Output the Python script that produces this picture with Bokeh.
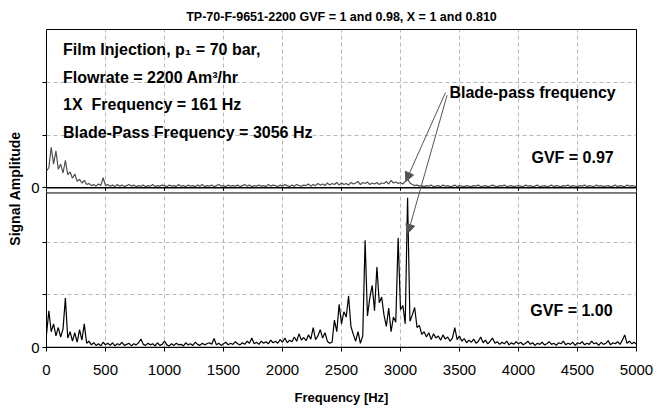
from bokeh.plotting import figure
from bokeh.models import Range1d, FixedTicker, CustomJSTickFormatter, Label, Arrow, NormalHead, Span
from bokeh.embed import file_html
from bokeh.resources import INLINE

# ---------------- data ----------------
freq_hz = list(range(0, 5001, 20))   # FFT bins, 20 Hz spacing

# GVF = 1.00 (bottom trace), amplitude units: 100 = one grid division
amp_gvf_100 = [
    25, 70, 30, 45, 22, 38, 20, 35, 94, 18,
    30, 12, 28, 10, 34, 14, 45, 8, 12, 5,
    9, 4, 7, 3, 10, 5, 8, 4, 9, 3,
    7, 5, 10, 4, 6, 8, 3, 7, 5, 9,
    16, 6, 4, 8, 5, 7, 3, 9, 4, 6,
    12, 5, 3, 7, 4, 8, 5, 6, 3, 9,
    5, 7, 4, 10, 6, 4, 8, 5, 7, 9,
    6, 17, 5, 8, 4, 7, 10, 5, 8, 6,
    11, 7, 5, 9, 6, 12, 8, 18, 7, 10,
    6, 12, 8, 11, 7, 14, 9, 12, 8, 15,
    10, 18, 9, 14, 11, 20, 12, 26, 14, 19,
    13, 24, 16, 38, 15, 22, 34, 18, 28, 12,
    8, 10, 52, 30, 82, 45, 68, 58, 98, 40,
    25, 12, 30, 8, 22, 204, 60, 95, 118, 70,
    153, 85, 96, 62, 40, 75, 30, 58, 48, 209,
    72, 80, 45, 285, 50, 62, 76, 38, 42, 25,
    30, 20, 28, 15, 26, 18, 22, 14, 24, 16,
    20, 12, 18, 38, 15, 22, 12, 17, 9, 14,
    10, 16, 8, 12, 20, 9, 14, 7, 12, 18,
    8, 11, 6, 10, 7, 12, 5, 9, 6, 11,
    7, 10, 5, 8, 12, 6, 9, 4, 8, 6,
    10, 5, 7, 11, 6, 8, 4, 9, 7, 12,
    5, 8, 6, 10, 4, 9, 7, 11, 5, 8,
    6, 12, 7, 9, 4, 10, 6, 8, 13, 5,
    9, 7, 11, 6, 14, 24, 8, 12, 7, 10,
    6,
]

# GVF = 0.97 (top trace)
amp_gvf_097 = [
    32, 38, 77, 45, 70, 35, 45, 28, 52, 25,
    30, 18, 26, 12, 16, 9, 14, 6, 8, 4,
    6, 3, 7, 4, 19, 4, 6, 3, 5, 2,
    6, 3, 5, 2, 4, 6, 3, 5, 2, 4,
    3, 5, 2, 4, 3, 6, 2, 4, 3, 5,
    4, 2, 5, 3, 4, 2, 6, 3, 4, 2,
    5, 3, 4, 2, 5, 3, 6, 2, 4, 3,
    5, 2, 4, 6, 3, 4, 2, 5, 3, 4,
    3, 5, 2, 4, 6, 3, 5, 2, 4, 3,
    5, 3, 4, 2, 6, 3, 5, 4, 2, 5,
    3, 6, 4, 2, 5, 3, 6, 4, 3, 5,
    4, 7, 3, 6, 4, 8, 5, 7, 4, 9,
    5, 8, 6, 10, 5, 9, 6, 8, 5, 10,
    7, 9, 12, 6, 10, 8, 11, 6, 9, 7,
    10, 6, 9, 8, 12, 7, 14, 9, 11, 8,
    10, 7, 12, 17, 9, 6, 4, 5, 3, 4,
    2, 4, 3, 5, 2, 3, 4, 2, 5, 3,
    4, 2, 3, 5, 2, 4, 3, 2, 4, 3,
    2, 4, 3, 5, 2, 3, 4, 2, 3, 5,
    3, 2, 4, 3, 5, 2, 3, 4, 2, 3,
    4, 3, 2, 5, 3, 4, 2, 3, 5, 2,
    3, 4, 2, 3, 5, 2, 4, 3, 2, 4,
    3, 5, 2, 4, 3, 2, 4, 3, 5, 2,
    4, 3, 2, 5, 3, 4, 2, 3, 4, 2,
    3, 5, 2, 4, 3, 2, 5, 3, 4, 3,
    2,
]

x_ticks = [0, 500, 1000, 1500, 2000, 2500, 3000, 3500, 4000, 4500, 5000]
title_text = "TP-70-F-9651-2200 GVF = 1 and 0.98, X = 1 and 0.810"
info_lines = [
    "Film Injection, p\u2081 = 70 bar,",
    "Flowrate = 2200 Am\u00b3/hr",
    "1X\u00a0 Frequency = 161 Hz",
    "Blade-Pass Frequency = 3056 Hz",
]

# ---------------- layout constants ----------------
UNIT = 100.0          # amplitude per grid division
TOP_OFF = 3.04        # baseline of the upper panel (grid units)
BOT_TOP = 2.94        # top border of the lower panel
FONT = "Liberation Sans"
ANN_SIZE = "16px"

y_bot = [a / UNIT for a in amp_gvf_100]
y_top = [TOP_OFF + a / UNIT for a in amp_gvf_097]

p = figure(width=669, height=420, output_backend="svg", toolbar_location=None,
           x_range=Range1d(0, 5000), y_range=Range1d(0, 6.05),
           min_border_left=46, min_border_right=33, min_border_top=29, min_border_bottom=73)

p.title.text = title_text
p.title.align = "center"
p.title.text_font = FONT
p.title.text_font_size = "12.5px"
p.title.text_font_style = "bold"
p.title.text_color = "black"
p.title.standoff = 11

p.outline_line_color = "black"
p.outline_line_width = 1

# axes
p.xaxis.ticker = FixedTicker(ticks=x_ticks)
p.xaxis.axis_label = "Frequency [Hz]"
p.xaxis.axis_label_text_font = FONT
p.xaxis.axis_label_text_font_size = "13px"
p.xaxis.axis_label_text_font_style = "bold"
p.xaxis.axis_label_text_color = "black"
p.xaxis.axis_label_standoff = 12
p.xaxis.major_label_text_font = FONT
p.xaxis.major_label_text_font_size = "15px"
p.xaxis.major_label_text_color = "black"
p.xaxis.major_label_standoff = 13
p.xaxis.major_tick_out = 4
p.xaxis.major_tick_in = 0
p.xaxis.minor_tick_line_color = None
p.xaxis.axis_line_color = None
p.xaxis.major_tick_line_color = "black"

p.yaxis.ticker = FixedTicker(ticks=[0, 1, 2, TOP_OFF, TOP_OFF + 1, TOP_OFF + 2])
p.yaxis.formatter = CustomJSTickFormatter(
    code="return (Math.abs(tick) < 1e-6 || Math.abs(tick - %s) < 1e-6) ? '0' : '';" % TOP_OFF)
p.yaxis.axis_label = "Signal Amplitude"
p.yaxis.axis_label_text_font = FONT
p.yaxis.axis_label_text_font_size = "14px"
p.yaxis.axis_label_text_font_style = "bold"
p.yaxis.axis_label_text_color = "black"
p.yaxis.axis_label_standoff = 5
p.yaxis.major_label_text_font = FONT
p.yaxis.major_label_text_font_size = "15px"
p.yaxis.major_label_text_color = "black"
p.yaxis.major_label_standoff = 3
p.yaxis.major_tick_out = 4
p.yaxis.major_tick_in = 0
p.yaxis.minor_tick_line_color = None
p.yaxis.axis_line_color = None

for g in (p.xgrid, p.ygrid):
    g.grid_line_color = "#b8b8b8"
    g.grid_line_dash = "4 3"
    g.grid_line_width = 1

# gap between the two panels
p.quad(left=0, right=5000, bottom=BOT_TOP, top=TOP_OFF, fill_color="white", line_color=None)
p.segment(x0=x_ticks, y0=[TOP_OFF] * len(x_ticks), x1=x_ticks, y1=[TOP_OFF - 0.06] * len(x_ticks),
          line_color="black", line_width=1)
p.add_layout(Span(location=BOT_TOP, dimension="width", line_color="black", line_width=1))

# spectra
p.line(freq_hz, y_top, line_color="#505050", line_width=1.2)
p.line(freq_hz, y_bot, line_color="black", line_width=1.2)
p.add_layout(Span(location=TOP_OFF, dimension="width", line_color="black", line_width=1.5))
p.add_layout(Span(location=0, dimension="width", line_color="black", line_width=1.5))

# text annotations
for i, txt in enumerate(info_lines):
    p.add_layout(Label(x=140, y=5.67 - i * 0.525, text=txt, text_font=FONT, text_font_size=ANN_SIZE,
                       text_font_style="bold", text_baseline="middle", text_color="black"))

p.add_layout(Label(x=3415, y=4.85, text="Blade-pass frequency", text_font=FONT, text_font_size=ANN_SIZE,
                   text_font_style="bold", text_baseline="middle", text_color="black"))
p.add_layout(Label(x=4110, y=3.62, text="GVF = 0.97", text_font=FONT, text_font_size=ANN_SIZE,
                   text_font_style="bold", text_baseline="middle", text_color="black"))
p.add_layout(Label(x=4100, y=0.70, text="GVF = 1.00", text_font=FONT, text_font_size=ANN_SIZE,
                   text_font_style="bold", text_baseline="middle", text_color="black"))

arrow_col = "#555555"
p.add_layout(Arrow(x_start=3381, y_start=4.85, x_end=3045, y_end=3.16, line_color=arrow_col, line_width=1,
                   end=NormalHead(size=9, fill_color=arrow_col, line_color=arrow_col)))
p.add_layout(Arrow(x_start=3395, y_start=4.80, x_end=3062, y_end=2.17, line_color=arrow_col, line_width=1,
                   end=NormalHead(size=9, fill_color=arrow_col, line_color=arrow_col)))

open("out.html", "w").write(file_html(p, INLINE))
